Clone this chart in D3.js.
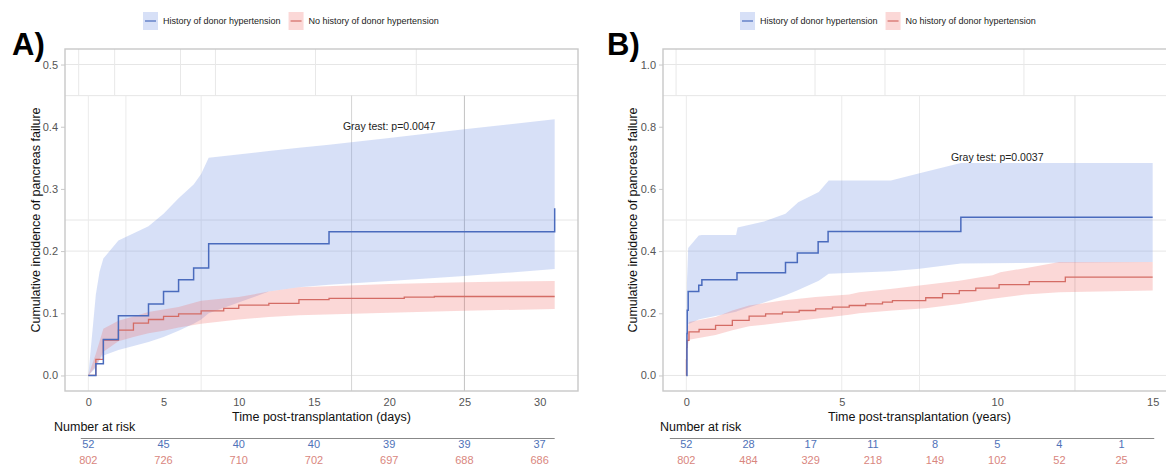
<!DOCTYPE html>
<html><head><meta charset="utf-8">
<script src="https://cdn.jsdelivr.net/npm/d3@7/dist/d3.min.js"></script>
<style>
html,body{margin:0;padding:0;background:#fff;}
svg{display:block;font-family:"Liberation Sans",Arial,sans-serif;}
</style></head><body>
<svg id="chart" width="1166" height="466"></svg>
<script>
// ---------------- DATA ----------------
const legendLabels = ["History of donor hypertension", "No history of donor hypertension"];
const panelLabels = ["A)", "B)"];
const yTitle = "Cumulative incidence of pancreas failure";
const xTitles = ["Time post-transplantation (days)", "Time post-transplantation (years)"];
const grayTests = ["Gray test: p=0.0047", "Gray test: p=0.0037"];
const riskTitle = "Number at risk";

// Panel A (days)
const aXTicks = [0, 5, 10, 15, 20, 25, 30];
const aYTicks = [0, 0.1, 0.2, 0.3, 0.4, 0.5];
const aHistTime  = [0, 0.5, 1, 2, 4, 5, 6, 7, 8, 16, 31];
const aHistValue = [0, 0.019, 0.058, 0.096, 0.115, 0.135, 0.154, 0.173, 0.212, 0.231, 0.269];
const aHistBandTime  = [0, 0.5, 0.75, 1, 2, 4, 5, 6, 7, 7.5, 8, 12, 14, 16, 20, 25, 31];
const aHistBandLow   = [0, 0.012, 0.025, 0.032, 0.041, 0.054, 0.062, 0.072, 0.083, 0.09, 0.1, 0.135, 0.142, 0.146, 0.152, 0.16, 0.171];
const aHistBandHigh  = [0, 0.13, 0.167, 0.188, 0.217, 0.24, 0.26, 0.285, 0.307, 0.324, 0.35, 0.361, 0.366, 0.371, 0.382, 0.396, 0.412];
const aNoTime  = [0, 0.5, 1, 2, 3, 4, 5, 6, 7.5, 9, 10, 12, 14, 16, 21, 23, 31];
const aNoValue = [0, 0.026, 0.057, 0.073, 0.084, 0.09, 0.095, 0.099, 0.104, 0.108, 0.113, 0.116, 0.122, 0.124, 0.126, 0.127, 0.127];
const aNoBandTime = [0, 0.5, 1, 2, 3, 4, 5, 6, 7.5, 10, 12, 14, 20, 25, 31];
const aNoBandLow  = [0, 0.015, 0.038, 0.055, 0.062, 0.068, 0.072, 0.077, 0.083, 0.09, 0.094, 0.097, 0.101, 0.104, 0.107];
const aNoBandHigh = [0, 0.035, 0.075, 0.088, 0.095, 0.102, 0.106, 0.11, 0.12, 0.126, 0.135, 0.142, 0.147, 0.15, 0.152];
const aRiskTime = [0, 5, 10, 15, 20, 25, 30];
const aRiskHist = [52, 45, 40, 40, 39, 39, 37];
const aRiskNo   = [802, 726, 710, 702, 697, 688, 686];
const aGridX = [0, 2.5, 7.5, 17.5, 25];
const aGridXTop = [-0.64, 1.75, 6.13, 8.45, 15.1, 21.8];
const aGridY = [0, 0.2, 0.25, 0.45, 0.5];

// Panel B (years)
const bXTicks = [0, 5, 10, 15];
const bYTicks = [0, 0.2, 0.4, 0.6, 0.8, 1.0];
const bHistTime  = [0, 0.02, 0.03, 0.06, 0.4, 0.5, 1.63, 3.19, 3.57, 4.24, 4.56, 8.83, 15];
const bHistValue = [0, 0.135, 0.21, 0.27, 0.29, 0.308, 0.33, 0.363, 0.394, 0.43, 0.463, 0.509, 0.509];
const bHistBandTime = [0, 0.02, 0.06, 0.4, 0.5, 1.6, 1.65, 2.5, 3.19, 3.6, 4.26, 4.58, 6.58, 7.5, 8.83, 15];
const bHistBandLow  = [0, 0.1, 0.165, 0.18, 0.182, 0.205, 0.207, 0.235, 0.258, 0.275, 0.305, 0.327, 0.335, 0.343, 0.36, 0.365];
const bHistBandHigh = [0, 0.3, 0.41, 0.45, 0.452, 0.452, 0.476, 0.495, 0.52, 0.557, 0.59, 0.627, 0.627, 0.65, 0.683, 0.683];
const bNoTime  = [0, 0.005, 0.01, 0.02, 0.086, 0.41, 0.94, 1.48, 2.02, 2.55, 3.09, 3.63, 4.16, 4.70, 5.24, 5.77, 6.31, 6.63, 7.7, 8.24, 8.78, 9.31, 10.06, 11.03, 12.19, 15];
const bNoValue = [0, 0.05, 0.09, 0.113, 0.14, 0.148, 0.161, 0.177, 0.191, 0.198, 0.204, 0.209, 0.214, 0.22, 0.225, 0.23, 0.236, 0.241, 0.25, 0.263, 0.273, 0.281, 0.292, 0.302, 0.316, 0.316];
const bNoBandTime = [0, 0.02, 0.086, 0.94, 1.48, 2.02, 3.09, 4.16, 5.24, 5.56, 6.63, 7.7, 8.78, 9.85, 10.1, 10.9, 12.0, 15];
const bNoBandLow  = [0, 0.08, 0.115, 0.13, 0.145, 0.158, 0.17, 0.182, 0.195, 0.2, 0.209, 0.216, 0.23, 0.247, 0.25, 0.26, 0.268, 0.273];
const bNoBandHigh = [0, 0.14, 0.172, 0.188, 0.209, 0.225, 0.241, 0.252, 0.26, 0.268, 0.279, 0.292, 0.305, 0.322, 0.332, 0.345, 0.365, 0.365];
const bRiskTime = [0, 2, 4, 6, 8, 10, 12, 14];
const bRiskHist = [52, 28, 17, 11, 8, 5, 4, 1];
const bRiskNo   = [802, 484, 329, 218, 149, 102, 52, 25];
const bGridX = [0, 5, 7.5, 12.5];
const bGridXTop = [-0.33, 4.14, 6.39, 10.86];
const bGridY = [0, 0.4, 0.5, 0.9, 1.0];

// ---------------- STYLE ----------------
const blueLine = "#4a6bbd", redLine = "#d46c65";
const blueFill = "rgb(110,145,225)", redFill = "rgb(240,105,100)";
const blueAlpha = 0.28, redAlpha = 0.26;
const blueText = "#4f72b8", redText = "#d9867e";

const svg = d3.select("#chart");
const zip = (t, v) => t.map((d, i) => [d, v[i]]);
const zip3 = (t, lo, hi) => t.map((d, i) => [d, lo[i], hi[i]]);

const panels = [
  { ox: 0, xDomain: [-1.55, 32.55], yDomain: [-0.025, 0.525], xTicks: aXTicks, yTicks: aYTicks,
    hist: zip(aHistTime, aHistValue), histBand: zip3(aHistBandTime, aHistBandLow, aHistBandHigh),
    no: zip(aNoTime, aNoValue), noBand: zip3(aNoBandTime, aNoBandLow, aNoBandHigh),
    riskT: aRiskTime, riskH: aRiskHist, riskN: aRiskNo, riskLine: [-0.5, 31],
    gridX: aGridX, gridXTop: aGridXTop, gridY: aGridY,
    gridColor: { 17.5: "#d4d4d4", 25: "#c2c2c2" }, gridTopBreak: 0.45,
    test: [20, 0.4], label: panelLabels[0], xt: xTitles[0], gt: grayTests[0],
    legendX: 143, labelX: 12, riskTitleX: 54, ytX: 36, fmt: d3.format(".1f") },
  { ox: 598, xDomain: [-0.75, 15.75], yDomain: [-0.05, 1.05], xTicks: bXTicks, yTicks: bYTicks,
    hist: zip(bHistTime, bHistValue), histBand: zip3(bHistBandTime, bHistBandLow, bHistBandHigh),
    no: zip(bNoTime, bNoValue), noBand: zip3(bNoBandTime, bNoBandLow, bNoBandHigh),
    riskT: bRiskTime, riskH: bRiskHist, riskN: bRiskNo, riskLine: [-0.53, 15.05],
    gridX: bGridX, gridXTop: bGridXTop, gridY: bGridY,
    gridColor: { 12.5: "#dedede" }, gridTopBreak: 0.9,
    test: [10, 0.7], label: panelLabels[1], xt: xTitles[1], gt: grayTests[1],
    legendX: 142, labelX: 9, riskTitleX: 62, ytX: 35, fmt: d3.format(".1f") }
];

const L = 65, R = 578, T = 49, B = 391;

panels.forEach(p => {
  const g = svg.append("g").attr("transform", `translate(${p.ox},0)`);
  const x = d3.scaleLinear().domain(p.xDomain).range([L, R]);
  const y = d3.scaleLinear().domain(p.yDomain).range([B, T]);

  const clipId = "clip" + p.ox;
  g.append("clipPath").attr("id", clipId).append("rect")
    .attr("x", L).attr("y", T).attr("width", R - L).attr("height", B - T);

  // grid
  const grid = g.append("g").attr("clip-path", `url(#${clipId})`);
  p.gridY.forEach(v => grid.append("line").attr("x1", L).attr("x2", R)
    .attr("y1", y(v)).attr("y2", y(v)).attr("stroke", "#e6e6e6").attr("stroke-width", 1));
  p.gridX.forEach(v => grid.append("line").attr("x1", x(v)).attr("x2", x(v))
    .attr("y1", y(p.gridTopBreak)).attr("y2", B)
    .attr("stroke", p.gridColor[v] || "#ebebeb").attr("stroke-width", 1));
  p.gridXTop.forEach(v => grid.append("line").attr("x1", x(v)).attr("x2", x(v))
    .attr("y1", T).attr("y2", y(p.gridTopBreak)).attr("stroke", "#e8e8e8").attr("stroke-width", 1));

  // bands
  const area = d3.area().x(d => x(d[0])).y0(d => y(d[1])).y1(d => y(d[2]));
  const plot = g.append("g").attr("clip-path", `url(#${clipId})`);
  plot.append("path").datum(p.histBand).attr("d", area).attr("fill", blueFill).attr("fill-opacity", blueAlpha);
  plot.append("path").datum(p.noBand).attr("d", area).attr("fill", redFill).attr("fill-opacity", redAlpha);

  const step = d3.line().x(d => x(d[0])).y(d => y(d[1])).curve(d3.curveStepAfter);
  plot.append("path").datum(p.no).attr("d", step).attr("fill", "none").attr("stroke", redLine).attr("stroke-width", 1.3);
  plot.append("path").datum(p.hist).attr("d", step).attr("fill", "none").attr("stroke", blueLine).attr("stroke-width", 1.5);

  // frame
  g.append("rect").attr("x", L).attr("y", T).attr("width", R - L).attr("height", B - T)
    .attr("fill", "none").attr("stroke", "#c8c8c8").attr("stroke-width", 1.4);

  // y axis
  const ya = g.append("g").attr("transform", `translate(${L},0)`)
    .call(d3.axisLeft(y).tickValues(p.yTicks).tickFormat(p.fmt).tickSize(4).tickPadding(3));
  ya.select(".domain").remove();
  ya.selectAll(".tick line").attr("stroke", "#c8c8c8");
  ya.selectAll(".tick text").attr("fill", "#555").style("font-size", "11px").style("font-family", "Liberation Sans, Arial, sans-serif");

  // x axis
  const xa = g.append("g").attr("transform", `translate(0,${B})`)
    .call(d3.axisBottom(x).tickValues(p.xTicks).tickFormat(d3.format("d")).tickSize(0).tickPadding(7));
  xa.select(".domain").remove();
  xa.selectAll(".tick text").attr("fill", "#555").style("font-size", "11px").style("font-family", "Liberation Sans, Arial, sans-serif");

  // titles
  g.append("text").attr("x", (L + R) / 2).attr("y", 421).attr("text-anchor", "middle")
    .attr("fill", "#111").style("font-size", "12.5px").text(p.xt);
  g.append("text").attr("transform", `translate(${p.ytX},${(T + B) / 2}) rotate(-90)`)
    .attr("text-anchor", "middle").attr("dy", "0.35em").attr("fill", "#111").style("font-size", "12.5px").text(yTitle);

  // Gray test
  g.append("text").attr("x", x(p.test[0])).attr("y", y(p.test[1])).attr("dy", "0.35em")
    .attr("text-anchor", "middle").attr("fill", "#222").style("font-size", "10.5px").text(p.gt);

  // Panel label
  g.append("text").attr("x", p.labelX).attr("y", 55).attr("fill", "#000")
    .style("font-size", "31px").style("font-weight", "bold").text(p.label);

  // Legend
  const lg = g.append("g").attr("transform", `translate(${p.legendX},0)`);
  let cx = 0;
  [[blueFill, blueAlpha, blueLine], [redFill, redAlpha, redLine]].forEach((c, i) => {
    lg.append("rect").attr("x", cx).attr("y", 12).attr("width", 15).attr("height", 18)
      .attr("fill", c[0]).attr("fill-opacity", c[1]);
    lg.append("line").attr("x1", cx + 2).attr("x2", cx + 13).attr("y1", 21).attr("y2", 21)
      .attr("stroke", c[2]).attr("stroke-width", 1.2);
    const t = lg.append("text").attr("x", cx + 20).attr("y", 21).attr("dy", "0.35em")
      .attr("fill", "#222").style("font-size", "9px").text(legendLabels[i]);
    cx += 20 + t.node().getComputedTextLength() + 8;
  });

  // Number at risk
  g.append("text").attr("x", p.riskTitleX).attr("y", 427).attr("dy", "0.35em")
    .attr("fill", "#111").style("font-size", "12.5px").text(riskTitle);
  g.append("line").attr("x1", x(p.riskLine[0])).attr("x2", x(p.riskLine[1]))
    .attr("y1", 438.5).attr("y2", 438.5).attr("stroke", "#888").attr("stroke-width", 1);
  p.riskT.forEach((t, i) => {
    g.append("text").attr("x", x(t)).attr("y", 444.5).attr("dy", "0.35em").attr("text-anchor", "middle")
      .attr("fill", blueText).style("font-size", "11px").text(p.riskH[i]);
    g.append("text").attr("x", x(t)).attr("y", 460.5).attr("dy", "0.35em").attr("text-anchor", "middle")
      .attr("fill", redText).style("font-size", "11px").text(p.riskN[i]);
  });
});
</script>
</body></html>
